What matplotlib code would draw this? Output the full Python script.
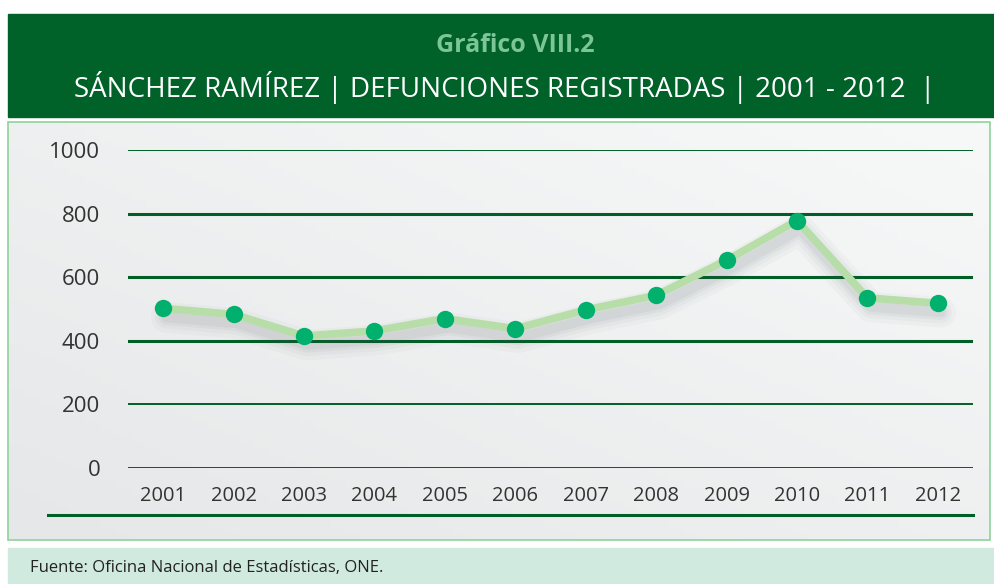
import numpy as np
import matplotlib
matplotlib.use("Agg")
import matplotlib.pyplot as plt
from matplotlib.patches import Rectangle
from matplotlib import transforms

plt.rcParams['font.family'] = ['Open Sans', 'DejaVu Sans']

# data
years = ['2001', '2002', '2003', '2004', '2005', '2006',
         '2007', '2008', '2009', '2010', '2011', '2012']
deaths = [502, 483, 415, 431, 470, 438, 497, 543, 653, 778, 535, 518]
y_ticks = [0, 200, 400, 600, 800, 1000]

title_top = 'Gráfico VIII.2'
title_main = 'SÁNCHEZ RAMÍREZ | DEFUNCIONES REGISTRADAS | 2001 - 2012  |'
source = 'Fuente: Oficina Nacional de Estadísticas, ONE.'

dark_green = '#005f27'
W, H = 994, 584
fig = plt.figure(figsize=(W / 100, H / 100), dpi=100)
fig.patch.set_facecolor('white')

# background layer in pixel coords
bg = fig.add_axes([0, 0, 1, 1])
bg.set_xlim(0, W)
bg.set_ylim(H, 0)
bg.axis('off')

# banner
bg.add_patch(Rectangle((8, 14), W - 8, 103, color='#006129', zorder=1))
bg.text(515, 46, title_top, color='#7cc596', fontsize=18, fontweight='bold',
        ha='center', va='center', zorder=2)
bg.text(505, 88, title_main, color='white', fontsize=20,
        ha='center', va='center', zorder=2)

# chart box with soft gray gradient
gx = np.linspace(0, 1, 64)
gy = np.linspace(0, 1, 64)
GX, GY = np.meshgrid(gx, gy)
grad = 0.5 * GX + 0.5 * (1 - GY)
bg.imshow(grad, extent=(8, 990, 540, 122), cmap=plt.cm.colors.LinearSegmentedColormap.from_list(
    'g', ['#e6e7e8', '#f7f8f8']), aspect='auto', zorder=1)
bg.add_patch(Rectangle((8, 122), 982, 418, fill=False, ec='#8fd39a', lw=1.2, zorder=2))
bg.plot([48, 973], [515, 515], color=dark_green, lw=2.2, zorder=3)

# footer
bg.add_patch(Rectangle((8, 548), W - 8, 36, color='#d0eadf', zorder=1))
bg.text(30, 568, source, color='#222222', fontsize=12, ha='left', va='center',
        zorder=2)

# main plot axes
ax = fig.add_axes([128 / W, 1 - 468 / H, (973 - 128) / W, (468 - 150) / H])
ax.patch.set_alpha(0)
x = np.arange(len(years))
ax.set_xlim(-0.5, len(years) - 0.5)
ax.set_ylim(0, 1000)
for s in ax.spines.values():
    s.set_visible(False)

for t in y_ticks:
    lw = 2.2 if t in (400, 600, 800) else 1.4
    ax.axhline(t, color=dark_green, lw=lw, zorder=1)

# soft shadow under the line
for w, a in [(22, 0.03), (16, 0.04), (11, 0.05), (7, 0.06)]:
    tr = transforms.offset_copy(ax.transData, fig=fig, x=3, y=-9, units='dots')
    ax.plot(x, deaths, color='#505860', lw=w, alpha=a, solid_capstyle='round',
            solid_joinstyle='round', transform=tr, zorder=2)

ax.plot(x, deaths, color='#b7dea8', lw=5.5, solid_joinstyle='round', zorder=3)
ax.plot(x, deaths, 'o', color='#00b06c', ms=12.5, mec='none', zorder=4)

ax.set_yticks(y_ticks)
ax.set_yticklabels([str(t) for t in y_ticks], fontsize=16, color='#333333')
ax.set_xticks(x)
ax.set_xticklabels(years, fontsize=14.5, color='#333333')
ax.tick_params(axis='y', length=0, pad=20)
ax.tick_params(axis='x', length=0, pad=13)

fig.savefig('out.png', dpi=100)
